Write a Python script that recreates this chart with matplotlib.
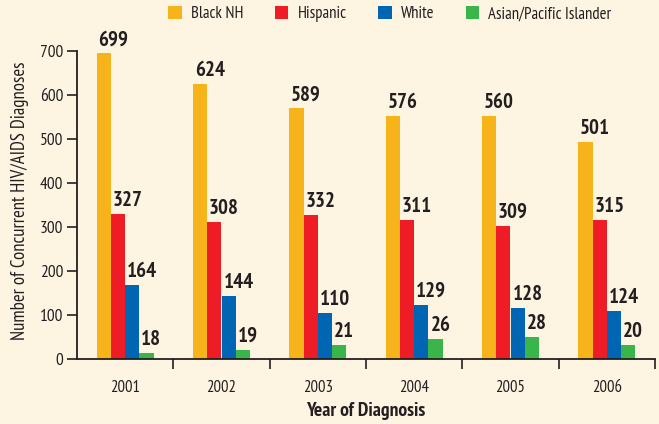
import numpy as np
import matplotlib.pyplot as plt
from matplotlib import font_manager
from matplotlib.patches import Patch

years = ['2001', '2002', '2003', '2004', '2005', '2006']
groups = ['Black NH', 'Hispanic', 'White', 'Asian/Pacific Islander']

# bar heights as drawn in the picture
black_nh = [695, 625, 570, 552, 552, 493]
hispanic = [329, 311, 327, 316, 302, 316]
white = [168, 143, 105, 123, 116, 109]
asian_pi = [14, 21, 32, 45, 50, 32]

# printed value labels
black_lbl = [699, 624, 589, 576, 560, 501]
hisp_lbl = [327, 308, 332, 311, 309, 315]
white_lbl = [164, 144, 110, 129, 128, 124]
asian_lbl = [18, 19, 21, 26, 28, 20]

colors = ['#F6B41A', '#EE1C25', '#0065B3', '#39B54A']
bg = '#FDF4E2'
ink = '#231F20'

names = {f.name for f in font_manager.fontManager.ttflist}
font = 'DejaVu Sans'
for cand in ['PT Sans Narrow', 'Asap Condensed', 'Archivo Narrow', 'Barlow Semi Condensed']:
    if cand in names:
        font = cand
        break
plt.rcParams['font.family'] = [font, 'DejaVu Sans']

fig = plt.figure(figsize=(6.59, 4.24), dpi=100, facecolor=bg)
ax = fig.add_axes([77 / 659, 65 / 424, 578 / 659, 308 / 424], facecolor=bg)

x = np.arange(len(years))
w = 0.148
series = [black_nh, hispanic, white, asian_pi]
labels = [black_lbl, hisp_lbl, white_lbl, asian_lbl]
for i, (vals, lbls) in enumerate(zip(series, labels)):
    pos = x + (i - 1.5) * w
    ax.bar(pos, vals, width=w, color=colors[i], linewidth=0)
    for p, v, l in zip(pos, vals, lbls):
        ax.text(p - w / 2 + 0.02, v + 9, str(l), ha='left', va='bottom',
                fontsize=15, fontweight='bold', color=ink)

ax.set_xlim(-0.5, 5.5)
ax.set_ylim(0, 700)
ax.set_yticks(range(0, 701, 100))
ax.set_xticks(x + 0.5)
ax.set_xticklabels([])
ax.set_xticks(x, minor=True)
ax.set_xticklabels(years, minor=True)
ax.tick_params(axis='x', which='major', length=7, width=1.2, color=ink, direction='out')
ax.tick_params(axis='x', which='minor', length=0, pad=15, labelsize=12, labelcolor=ink)
ax.tick_params(axis='y', length=7, width=1.2, color=ink, labelsize=12.5, labelcolor=ink, pad=3)

for s in ['top', 'right']:
    ax.spines[s].set_visible(False)
for s in ['left', 'bottom']:
    ax.spines[s].set_color(ink)
    ax.spines[s].set_linewidth(1.3)

fig.text(20 / 659, 1 - 201 / 424, 'Number of Concurrent HIV/AIDS Diagnoses', rotation=90,
         ha='center', va='center', fontsize=13.5, color=ink)
fig.text(366 / 659, 13 / 424, 'Year of Diagnosis', ha='center', va='center',
         fontsize=14, fontweight='bold', color=ink)

handles = [Patch(facecolor=c, edgecolor='none') for c in colors]
fig.legend(handles, groups, loc='center', bbox_to_anchor=(390 / 659, 1 - 14 / 424),
           ncol=4, frameon=False, fontsize=12, handlelength=0.8, handleheight=0.8,
           columnspacing=1.9, handletextpad=0.55, labelcolor=ink)

fig.savefig('out.png', dpi=100, facecolor=bg)
